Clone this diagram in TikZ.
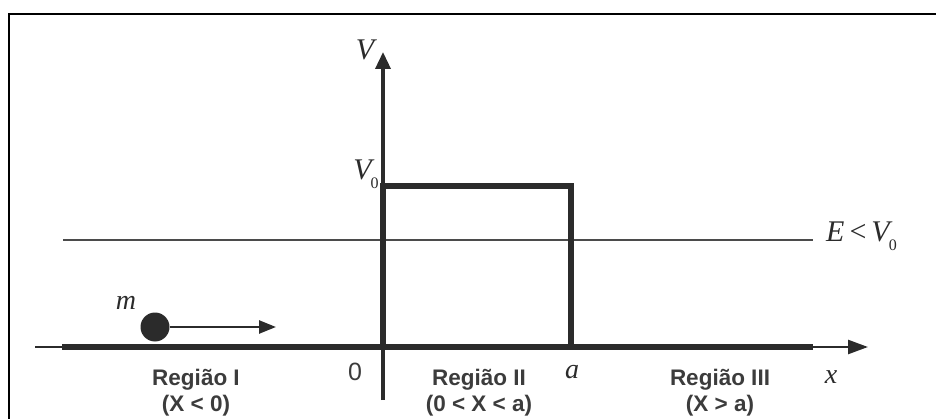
\documentclass[tikz,border=0pt]{standalone}
\usepackage{fontspec}
\setmainfont{Liberation Serif}
\newfontfamily\arialfont{Liberation Sans}
\usetikzlibrary{arrows.meta}
\definecolor{ink}{HTML}{2B2B2B}
\definecolor{txt}{HTML}{3C3C3C}
\tikzset{
  thickline/.style={draw=ink,line width=6pt,line cap=butt,line join=miter},
  axisline/.style={draw=ink,line width=3.5pt},
  thinline/.style={draw=ink!85,line width=2pt},
  mathlbl/.style={inner sep=0pt,text=ink,font=\fontsize{30}{30}\selectfont\itshape},
  regionlbl/.style={inner sep=0pt,text=txt,align=center,font=\arialfont\bfseries\fontsize{22.5}{26}\selectfont},
  numlbl/.style={inner sep=0pt,text=txt,font=\arialfont\fontsize{25}{25}\selectfont},
}
\newcommand{\subzero}{\kern-1pt\raisebox{-9pt}{\upshape\fontsize{16}{16}\selectfont 0}}
\begin{document}
\begin{tikzpicture}[x=1pt,y=-1pt]
\useasboundingbox (0,0) rectangle (936,419);
% frame (right and bottom lie outside the picture)
\coordinate (fbl) at (9,419);
\coordinate (ftl) at (9,14);
\coordinate (ftr) at (936,14);
\draw[black,line width=2pt] (fbl) -- (ftl) -- (ftr);

% key points
\coordinate (xstart) at (35,347);
\coordinate (xthick) at (62,347);
\coordinate (xthickend) at (813,347);
\coordinate (xend) at (868,347);
\coordinate (o) at (383,347);
\coordinate (vbot) at (383,400);
\coordinate (vtop) at (383,52);
\coordinate (p1) at (383,186);
\coordinate (p2) at (571,186);
\coordinate (p3) at (571,347);
\coordinate (e1) at (63,240);
\coordinate (e2) at (813,240);

% energy level
\draw[thinline] (e1) -- (e2);

% axes
\draw[draw=ink,line width=2.5pt,-{Triangle[length=20pt,width=14pt]}] (xstart) -- (xend);
\draw[thickline] (xthick) -- (xthickend);
\draw[axisline,-{Triangle[length=17pt,width=15pt]}] (vbot) -- (vtop);

% barrier
\draw[thickline] (o) -- (p1) -- (p2) -- (p3);

% particle
\node[circle,fill=ink,minimum size=29pt,inner sep=0pt] (ball) at (155,327) {};
\coordinate (mtip) at (276,327);
\draw[draw=ink,line width=2.5pt,-{Triangle[length=17pt,width=13pt]}] (ball.east) -- (mtip);

% labels
\node[mathlbl] (lV) at (365,50) {V};
\node[mathlbl,anchor=base] (lV0) at (366,180) {V\subzero};
\node[mathlbl,anchor=base west] (lE) at (826,242) {E\,\upshape<\,\itshape V\subzero};
\node[mathlbl,font=\fontsize{28}{28}\selectfont\itshape] (lm) at (126,303) {m};
\node[mathlbl,font=\fontsize{28}{28}\selectfont\itshape] (la) at (572,372) {a};
\node[mathlbl,font=\fontsize{28}{28}\selectfont\itshape] (lx) at (831,377) {x};
\node[numlbl] (l0) at (355,372) {0};

\node[regionlbl] (r1) at (196,393) {Região I\\(X < 0)};
\node[regionlbl] (r2) at (479,393) {Região II\\(0 < X < a)};
\node[regionlbl] (r3) at (720,393) {Região III\\(X > a)};
\end{tikzpicture}
\end{document}
